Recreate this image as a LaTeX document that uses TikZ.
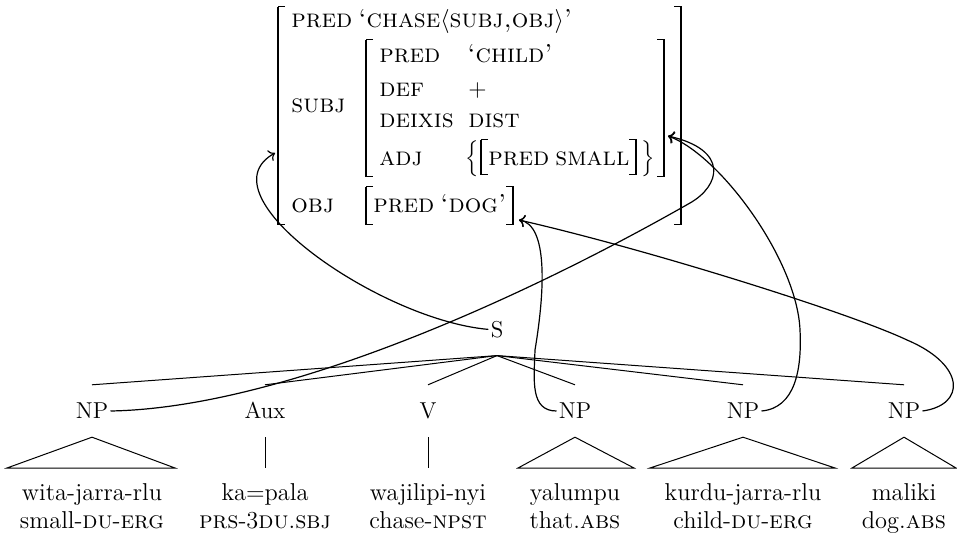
\documentclass[tikz,border=0pt]{standalone}
\usepackage{fontspec}
\usetikzlibrary{arrows.meta}
\newcommand\LBrk[3]{%
  \draw[serif] (#1+7,#2) -- (#1,#2) -- (#1,#3) -- (#1+7,#3);
  \draw[stem] (#1,#2) -- (#1,#3);}
\newcommand\RBrk[3]{%
  \draw[serif] (#1-7,#2) -- (#1,#2) -- (#1,#3) -- (#1-7,#3);
  \draw[stem] (#1,#2) -- (#1,#3);}
\begin{document}
\begin{tikzpicture}[x=0.5pt,y=-0.5pt,
  fs/.style={anchor=base west,inner sep=0pt,font=\fontsize{13}{15}\selectfont\scshape},
  brace/.style={anchor=base west,inner sep=0pt,font=\fontsize{11}{13}\selectfont},
  cat/.style={font=\fontsize{11.5}{13}\selectfont,inner xsep=1pt,inner ysep=9pt,text height=7.8pt,text depth=0pt},
  word/.style={anchor=base,inner sep=0pt,font=\fontsize{12.2}{14}\selectfont},
  edge/.style={line width=0.5pt},
  link/.style={line width=0.6pt,->},
  stem/.style={line width=1.3pt},
  serif/.style={line width=0.5pt}]
\useasboundingbox (0,0) rectangle (957,539);

% ---------- f-structure ----------
\LBrk{278}{7}{225}
\RBrk{681}{7}{225}
\node[fs] (p0) at (291,28) {pred};
\node[fs] (v0) at (358,28) {‘chase$\langle$subj,obj$\rangle$’};
\node[fs] (subj) at (291,113) {subj};
\LBrk{366}{40}{177}
\RBrk{664}{40}{177}
\node[fs] (p1) at (379,63) {pred};
\node[fs] (v1) at (467,63) {‘child’};
\node[fs] (def) at (379,97) {def};
\node[fs] (plus) at (468,97) {$+$};
\node[fs] (deix) at (379,128) {deixis};
\node[fs] (dist) at (468,128) {dist};
\node[fs] (adj) at (379,166) {adj};
\node[brace] (lbrace) at (465,164) {$\Big\{$};
\LBrk{481}{140}{175}
\node[fs] (p2) at (488,166) {pred};
\node[fs] (small) at (555,166) {small};
\RBrk{636}{140}{175}
\node[brace] (rbrace) at (641,164) {$\Big\}$};
\node[fs] (obj) at (291,213) {obj};
\LBrk{366}{187}{225}
\node[fs] (p3) at (373,213) {pred};
\node[fs] (v3) at (440,213) {‘dog’};
\RBrk{513}{187}{225}

\coordinate (fL) at (275,153);
\coordinate (subjR) at (668,136);
\coordinate (objR) at (519,220);

% ---------- c-structure ----------
\node[cat] (S) at (497,329.4) {S};
\node[cat] (np1) at (92,411) {NP};
\node[cat] (aux) at (265,411) {Aux};
\node[cat] (v) at (428,411) {V};
\node[cat] (np4) at (575,411) {NP};
\node[cat] (np5) at (743,411) {NP};
\node[cat] (np6) at (904,411) {NP};
\foreach \c in {np1,aux,v,np4,np5,np6} \draw[edge] (S.south) -- (\c.north);

\draw[edge] (np1.south) -- (7,468) -- (175,468) -- cycle;
\draw[edge] (aux.south) -- (265,468);
\draw[edge] (v.south) -- (428,468);
\draw[edge] (np4.south) -- (518,468) -- (634,468) -- cycle;
\draw[edge] (np5.south) -- (650,468) -- (835,468) -- cycle;
\draw[edge] (np6.south) -- (852,468) -- (956,468) -- cycle;

\node[word] (w1) at (92,500) {wita-jarra-rlu};
\node[word] (g1) at (92,528) {small-\textsc{du}-\textsc{erg}};
\node[word] (w2) at (265,500) {ka=pala};
\node[word] (g2) at (265,528) {\textsc{prs}-3\textsc{du}.\textsc{sbj}};
\node[word] (w3) at (428,500) {wajilipi-nyi};
\node[word] (g3) at (428,528) {chase-\textsc{npst}};
\node[word] (w4) at (575,500) {yalumpu};
\node[word] (g4) at (575,528) {that.\textsc{abs}};
\node[word] (w5) at (743,500) {kurdu-jarra-rlu};
\node[word] (g5) at (743,528) {child-\textsc{du}-\textsc{erg}};
\node[word] (w6) at (904,500) {maliki};
\node[word] (g6) at (904,528) {dog.\textsc{abs}};

% ---------- correspondence arrows ----------
\draw[link] (S.west) .. controls (380,320) and (200,195) .. (fL);
\draw[link] (np1.east) .. controls (280,408) and (520,300) .. (690,203)
  .. controls (720,186) and (730,150) .. (subjR);
\draw[link] (np4.west) .. controls (530,411) and (534,380) .. (535,350)
  .. controls (545,290) and (548,225) .. (objR);
\draw[link] (np5.east) .. controls (795,408) and (802,370) .. (800,330)
  .. controls (797,260) and (720,155) .. (subjR);
\draw[link] (np6.east) .. controls (966,405) and (966,365) .. (907,340)
  .. controls (850,313) and (650,250) .. (objR);
\end{tikzpicture}
\end{document}
